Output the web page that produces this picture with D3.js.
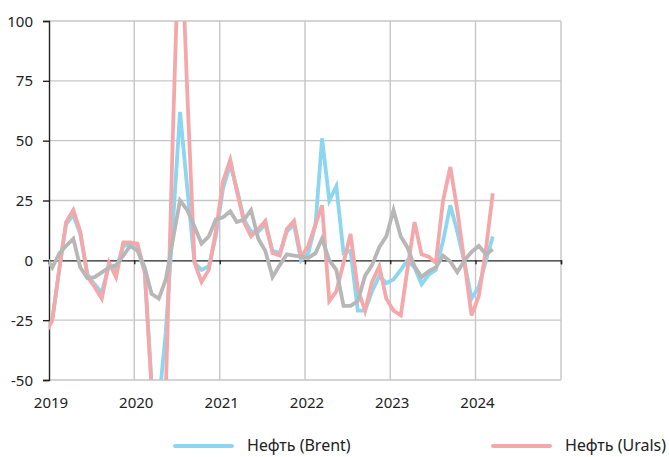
<!DOCTYPE html>
<html>
<head>
<meta charset="utf-8">
<script src="https://cdn.jsdelivr.net/npm/d3@7"></script>
<style>
  html, body { margin: 0; padding: 0; background: #fff; overflow: hidden; }
  svg { display: block; font-family: "Noto Sans", sans-serif; }
</style>
</head>
<body>
<svg width="669" height="457"></svg>
<script>
// monthly values, Dec 2018 .. Mar 2024 (first point falls left of the axis and is clipped)
const startMonth = new Date(2018, 11, 15);

const brent = [
  -30,
  -25, -3, 15, 19, 11, -6, -10, -13.5, -2, -4, 6, 6.5,
  5, -5, -52, -60, -30, 16, 62, 30, -1, -4, -2.5, 10,
  30, 40, 30, 17, 12, 12, 15, 4, 3, 12, 15, 0,
  3, 15, 51, 25, 31, 3, 4, -21, -21, -13, -6.5, -9.5,
  -8, -4, 0, -3, -10, -6, -4, 8, 23, 12, -1, -16,
  -11, 0, 10
];

const urals = [
  -31,
  -25, -3, 16, 21, 12, -7, -11, -16, -1, -7, 7.5, 7.5,
  7, -5, -53, -75, -55, 55, 150, 70, -1, -9, -4, 12,
  33, 42, 29, 16, 10, 13, 16.5, 3, 2, 13, 16.5, 1.5,
  6, 15, 23, -17, -13, -1, 11, -12, -21, -9, -2.5, -16,
  -21, -23, -4, 16, 2.5, 1.5, -1, 25, 39, 21, -1, -23,
  -15, 5, 28
];

const other = [
  2,
  -3, 3, 6, 9, -3, -7.5, -7, -5, -3, -2, 2, 6,
  4, -3, -14, -16, -8, 9, 25, 21, 14, 7, 10, 17,
  18, 20.5, 16, 17, 21, 9, 4, -7, -2, 2.5, 2, 1.5,
  1, 3, 9, 0, -4, -19, -19, -17, -6.5, -2, 5.5, 10,
  21, 10, 5.5, -2.5, -7, -4.5, -3, 2, -0.5, -5, 0, 3.5,
  6, 2.5, 4.5
];

const yTicks = [100, 75, 50, 25, 0, -25, -50];
const years = [2019, 2020, 2021, 2022, 2023, 2024, 2025];
const legendNames = ['Нефть (Brent)', 'Нефть (Urals)'];

const colors = { brent: '#8dd6f0', urals: '#f5a8aa', other: '#b7b7b7' };

const svg = d3.select('svg');
const margin = { top: 21, left: 49, right: 108, bottom: 77 };
const width = 669, height = 457;
const innerWidth = width - margin.left - margin.right;
const innerHeight = height - margin.top - margin.bottom;

const xScale = d3.scaleTime()
  .domain([new Date(2019, 0, 1), new Date(2025, 0, 1)])
  .range([0, innerWidth]);

const yScale = d3.scaleLinear()
  .domain([-50, 100])
  .range([innerHeight, 0]);

const g = svg.append('g')
  .attr('transform', `translate(${margin.left},${margin.top})`);

svg.append('defs').append('clipPath').attr('id', 'plot-clip')
  .append('rect')
    .attr('width', innerWidth)
    .attr('height', innerHeight);

// grid
g.append('g').selectAll('line.h')
  .data(yTicks.filter(d => d !== 0))
  .enter().append('line')
    .attr('x1', 0).attr('x2', innerWidth)
    .attr('y1', d => yScale(d)).attr('y2', d => yScale(d))
    .attr('stroke', '#c6c6c6').attr('stroke-width', 1.4);

g.append('g').selectAll('line.v')
  .data(years.slice(1))
  .enter().append('line')
    .attr('x1', d => xScale(new Date(d, 0, 1)))
    .attr('x2', d => xScale(new Date(d, 0, 1)))
    .attr('y1', 0).attr('y2', innerHeight)
    .attr('stroke', '#c6c6c6').attr('stroke-width', 1.4);

// zero line with small ticks
const zeroG = g.append('g')
  .attr('transform', `translate(0,${yScale(0)})`)
  .call(d3.axisBottom(xScale)
    .tickValues(years.map(y => new Date(y, 0, 1)))
    .tickSize(4)
    .tickFormat(''));
zeroG.selectAll('path, line').attr('stroke', '#222').attr('stroke-width', 1.4);
zeroG.selectAll('.tick text').remove();

// y axis: line and ticks from d3, labels drawn as plain text
const yAxisG = g.append('g')
  .call(d3.axisLeft(yScale)
    .tickValues(yTicks)
    .tickSize(6)
    .tickFormat(''));
yAxisG.select('.domain').attr('stroke', '#222').attr('stroke-width', 1.4);
yAxisG.selectAll('.tick line').attr('stroke', '#222').attr('stroke-width', 1.4);
yAxisG.selectAll('.tick text').remove();

g.append('g').selectAll('text')
  .data(yTicks)
  .enter().append('text')
    .attr('x', -16)
    .attr('y', d => yScale(d) + 5.5)
    .attr('text-anchor', 'end')
    .attr('font-size', 15)
    .attr('fill', '#222')
    .text(d => d);

// x labels
g.append('g').selectAll('text')
  .data(years.slice(0, 6))
  .enter().append('text')
    .attr('x', d => xScale(new Date(d, 0, 1)) + 2)
    .attr('y', innerHeight + 28)
    .attr('text-anchor', 'middle')
    .attr('font-size', 15)
    .attr('fill', '#222')
    .text(d => d);

// lines
const line = d3.line()
  .x((d, i) => xScale(d3.timeMonth.offset(startMonth, i)))
  .y(d => yScale(d));

const linesG = g.append('g').attr('clip-path', 'url(#plot-clip)');
[[brent, colors.brent], [urals, colors.urals], [other, colors.other]].forEach(([vals, c]) => {
  linesG.append('path')
    .datum(vals)
    .attr('d', line)
    .attr('fill', 'none')
    .attr('stroke', c)
    .attr('stroke-width', 3.8)
    .attr('stroke-linejoin', 'miter');
});

// legend
const legend = svg.append('g');
const legendItems = [
  { name: legendNames[0], color: colors.brent, x: 175 },
  { name: legendNames[1], color: colors.urals, x: 493 }
];
legendItems.forEach(d => {
  legend.append('line')
    .attr('x1', d.x).attr('x2', d.x + 57)
    .attr('y1', 446).attr('y2', 446)
    .attr('stroke', d.color).attr('stroke-width', 4)
    .attr('stroke-linecap', 'round');
  legend.append('text')
    .attr('x', d.x + 72)
    .attr('y', 451)
    .attr('font-size', 16)
    .attr('fill', '#222')
    .text(d.name);
});
</script>
</body>
</html>
